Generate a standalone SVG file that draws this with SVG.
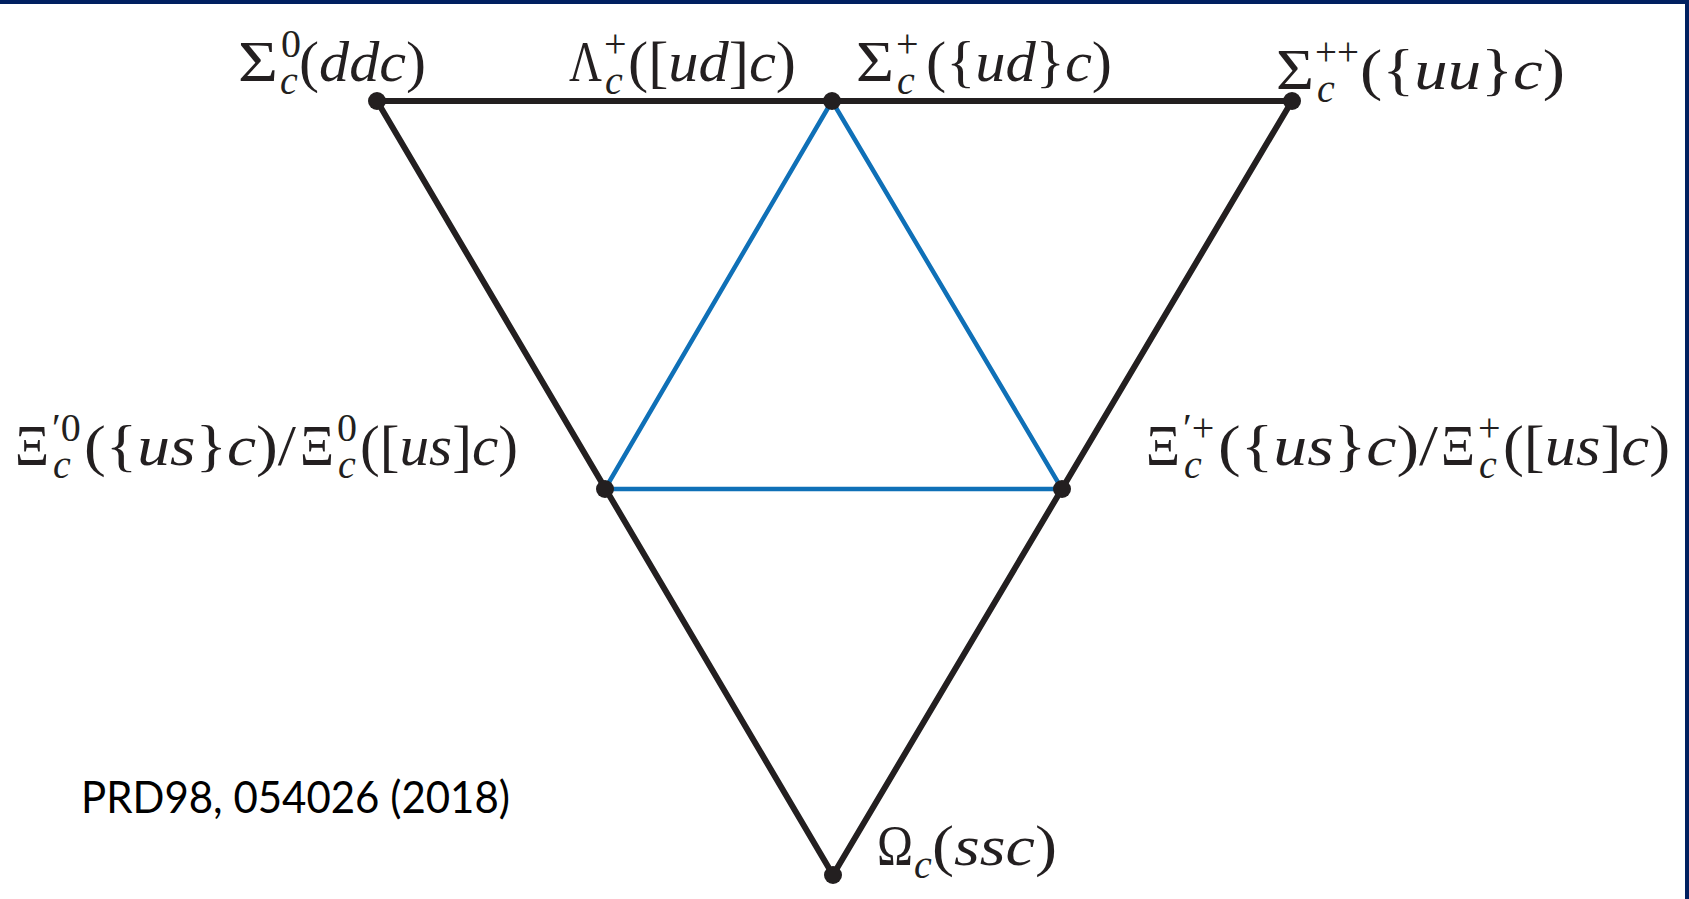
<svg xmlns="http://www.w3.org/2000/svg" width="1689" height="899" viewBox="0 0 1689 899">
<style>
.m{font-family:"Liberation Serif","DejaVu Serif",serif;font-size:58px;fill:#231f20}
.s{font-family:"Liberation Serif","DejaVu Serif",serif;font-size:40px;fill:#231f20}
.i{font-style:italic}
.ref{font-family:Lato,"Liberation Sans",sans-serif;font-size:44px;fill:#000}
.edge{stroke:#231f20;stroke-width:6;fill:none;stroke-linecap:round}
.blue{stroke:#0f70b7;stroke-width:4.5;fill:none;stroke-linecap:round}
.dot{fill:#231f20}
</style>
<rect x="0" y="0" width="1689" height="899" fill="#ffffff"/>
<rect x="0" y="0" width="1689" height="4" fill="#002060"/>
<rect x="1685" y="0" width="4" height="899" fill="#002060"/>
<g id="connectors">
<path class="blue" d="M832 101 L605 489 L1062 489 Z"/>
<path class="edge" d="M377 101 L1292 101"/>
<path class="edge" d="M377 101 L833 875"/>
<path class="edge" d="M1292 101 L833 875"/>
</g>
<g id="sigma0">
<circle class="dot" cx="377" cy="101" r="9"/>
<text class="m" x="238" y="81" textLength="40" lengthAdjust="spacingAndGlyphs">Σ</text>
<text class="s i" x="280" y="94">c</text>
<text class="s" x="281" y="57">0</text>
<text class="m" x="299" y="81" textLength="127" lengthAdjust="spacingAndGlyphs">(<tspan class="i">ddc</tspan>)</text>
</g>
<g id="lambda">
<text class="m" x="569" y="81" textLength="33" lengthAdjust="spacingAndGlyphs">Λ</text>
<text class="s i" x="605" y="94">c</text>
<text class="s" x="604" y="57">+</text>
<text class="m" x="628" y="81" textLength="168" lengthAdjust="spacingAndGlyphs">([<tspan class="i">ud</tspan>]<tspan class="i">c</tspan>)</text>
</g>
<g id="sigmaplus">
<circle class="dot" cx="832" cy="101" r="9"/>
<text class="m" x="856" y="81" textLength="38" lengthAdjust="spacingAndGlyphs">Σ</text>
<text class="s i" x="897" y="94">c</text>
<text class="s" x="896" y="57">+</text>
<text class="m" x="926" y="81" textLength="186" lengthAdjust="spacingAndGlyphs">({<tspan class="i">ud</tspan>}<tspan class="i">c</tspan>)</text>
</g>
<g id="sigmaplusplus">
<circle class="dot" cx="1292" cy="101" r="9"/>
<text class="m" x="1276" y="89" textLength="38" lengthAdjust="spacingAndGlyphs">Σ</text>
<text class="s i" x="1317" y="102">c</text>
<text class="s" x="1315" y="65" textLength="44" lengthAdjust="spacingAndGlyphs">++</text>
<text class="m" x="1360" y="89" textLength="205" lengthAdjust="spacingAndGlyphs">({<tspan class="i">uu</tspan>}<tspan class="i">c</tspan>)</text>
</g>
<g id="xi0">
<circle class="dot" cx="605" cy="489" r="9"/>
<text class="m" x="15" y="465" textLength="34" lengthAdjust="spacingAndGlyphs">Ξ</text>
<text class="s i" x="53" y="478">c</text>
<text class="s" x="52" y="441">′0</text>
<text class="m" x="84" y="465" textLength="212" lengthAdjust="spacingAndGlyphs">({<tspan class="i">us</tspan>}<tspan class="i">c</tspan>)/</text>
<text class="m" x="300" y="465" textLength="34" lengthAdjust="spacingAndGlyphs">Ξ</text>
<text class="s i" x="338" y="478">c</text>
<text class="s" x="337" y="441">0</text>
<text class="m" x="360" y="465" textLength="158" lengthAdjust="spacingAndGlyphs">([<tspan class="i">us</tspan>]<tspan class="i">c</tspan>)</text>
</g>
<g id="xiplus">
<circle class="dot" cx="1062" cy="489" r="9"/>
<text class="m" x="1146" y="465" textLength="34" lengthAdjust="spacingAndGlyphs">Ξ</text>
<text class="s i" x="1184" y="478">c</text>
<text class="s" x="1183" y="441">′+</text>
<text class="m" x="1218" y="465" textLength="220" lengthAdjust="spacingAndGlyphs">({<tspan class="i">us</tspan>}<tspan class="i">c</tspan>)/</text>
<text class="m" x="1441" y="465" textLength="34" lengthAdjust="spacingAndGlyphs">Ξ</text>
<text class="s i" x="1479" y="478">c</text>
<text class="s" x="1478" y="441">+</text>
<text class="m" x="1503" y="465" textLength="167" lengthAdjust="spacingAndGlyphs">([<tspan class="i">us</tspan>]<tspan class="i">c</tspan>)</text>
</g>
<g id="omega">
<circle class="dot" cx="833" cy="875" r="9"/>
<text class="m" x="877" y="865" textLength="36" lengthAdjust="spacingAndGlyphs">Ω</text>
<text class="s i" x="914" y="878">c</text>
<text class="m" x="932" y="865" textLength="125" lengthAdjust="spacingAndGlyphs">(<tspan class="i">ssc</tspan>)</text>
</g>
<text class="ref" x="81" y="813" textLength="429" lengthAdjust="spacingAndGlyphs">PRD98, 054026 (2018)</text>
</svg>
